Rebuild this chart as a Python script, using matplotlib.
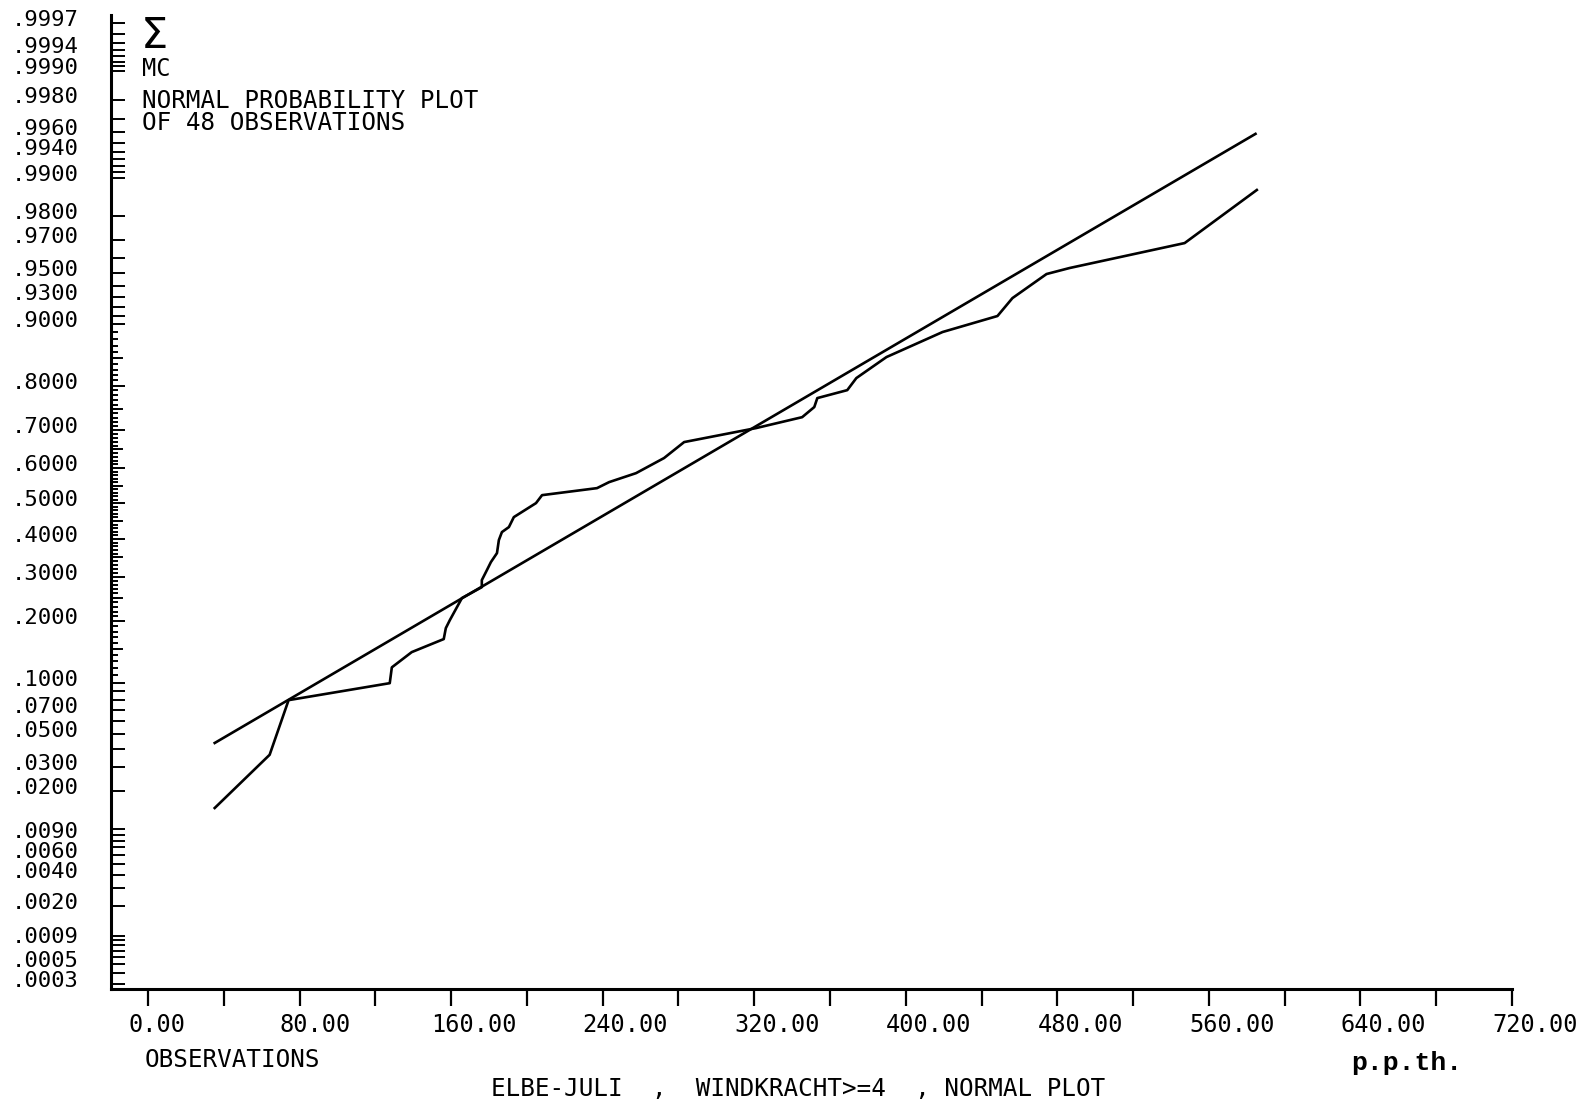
"""
normal probability plot, Elbe July, wind force >= 4
"""
import numpy as np
import matplotlib
matplotlib.use("Agg")
import matplotlib.pyplot as plt
from matplotlib.transforms import ScaledTranslation, blended_transform_factory
from statistics import NormalDist

# observed cumulative curve (p.p.th. , cumulative probability)
obs_x = [35.2, 64.2, 74.2, 127.6, 128.7, 139.2, 156.1, 157.2, 159.3, 165.7,
         176.2, 176.2, 178.9, 181.0, 184.2, 185.2, 186.8, 190.5, 193.1, 204.8,
         208.0, 237.0, 243.4, 257.6, 272.4, 283.0, 321.0, 345.3, 351.7, 353.3,
         369.1, 373.9, 389.8, 419.4, 448.4, 456.3, 474.3, 486.4, 547.2, 585.3]
obs_p = [0.0148, 0.0363, 0.0800, 0.0996, 0.1208, 0.1441, 0.1663, 0.1865, 0.2021, 0.2495,
         0.2749, 0.2918, 0.3170, 0.3376, 0.3613, 0.3967, 0.4188, 0.4329, 0.4610, 0.5008,
         0.5235, 0.5434, 0.5604, 0.5855, 0.6270, 0.6693, 0.7047, 0.7310, 0.7543, 0.7740,
         0.7907, 0.8146, 0.8520, 0.8895, 0.9096, 0.9287, 0.9493, 0.9536, 0.9685, 0.9874]

# fitted normal line, drawn between the smallest and largest observation
fit_x = [34.6, 585.2]
fit_p = [0.0431, 0.9959]

prob_labels = {0.9997: ".9997", 0.9994: ".9994", 0.9990: ".9990", 0.9980: ".9980",
               0.9960: ".9960", 0.9940: ".9940", 0.9900: ".9900", 0.9800: ".9800",
               0.9700: ".9700", 0.9500: ".9500", 0.9300: ".9300", 0.9000: ".9000",
               0.8: ".8000", 0.7: ".7000", 0.6: ".6000", 0.5: ".5000", 0.4: ".4000",
               0.3: ".3000", 0.2: ".2000", 0.1: ".1000", 0.07: ".0700", 0.05: ".0500",
               0.03: ".0300", 0.02: ".0200", 0.009: ".0090", 0.006: ".0060",
               0.004: ".0040", 0.002: ".0020", 0.0009: ".0009", 0.0005: ".0005",
               0.0003: ".0003"}
x_ticks = [0, 80, 160, 240, 320, 400, 480, 560, 640, 720]
x_labels = ["0.00", "80.00", "160.00", "240.00", "320.00", "400.00",
            "480.00", "560.00", "640.00", "720.00"]

_nd = NormalDist()
_ppf = np.vectorize(_nd.inv_cdf, otypes=[float])
_cdf = np.vectorize(_nd.cdf, otypes=[float])


def fwd(p):
    p = np.clip(np.asarray(p, dtype=float), 1e-12, 1 - 1e-12)
    return _ppf(p)


def inv(z):
    return _cdf(np.asarray(z, dtype=float))


MONO = "DejaVu Sans Mono"
W, H = 1593, 1102

fig = plt.figure(figsize=(W / 100, H / 100), dpi=100)
ax = fig.add_axes([110.7 / W, 1 - 989 / H, (1512 - 110.7) / W, (989 - 15) / H])
ax.set_yscale("function", functions=(fwd, inv))

ax.plot(fit_x, fit_p, color="black", lw=1.9, solid_capstyle="butt")
ax.plot(obs_x, obs_p, color="black", lw=1.9, solid_joinstyle="round")

ax.set_xlim(-19.7, 720)
ax.set_ylim(inv(-3.468), inv(3.488))

for s in ("top", "right"):
    ax.spines[s].set_visible(False)
for s in ("left", "bottom"):
    ax.spines[s].set_linewidth(2.2)

# probability ticks
low = [k / 10000 for k in range(3, 10)] + [k / 1000 for k in range(1, 10)] + \
      [k / 100 for k in range(1, 10)]
high = [k / 100 for k in range(91, 100)] + [k / 1000 for k in range(991, 1000)] + \
       [k / 10000 for k in range(9991, 9998)]
tens = [k / 10 for k in range(1, 10)]
major = low + tens + high
dense = [k / 100 for k in range(11, 90) if k % 10]
fives = [k / 100 for k in range(15, 90, 10)]

ax.set_yticks(major)
ax.set_yticklabels([prob_labels.get(round(p, 4), "") for p in major])
ax.set_yticks(dense, minor=True)
ax.yaxis.set_minor_formatter(plt.NullFormatter())
ax.tick_params(axis="y", which="major", direction="in", length=10, width=1.4,
               pad=23, labelsize=16)
ax.tick_params(axis="y", which="minor", direction="in", length=5, width=1.4)
for lab in ax.get_yticklabels():
    lab.set_fontfamily(MONO)
    lab.set_transform(lab.get_transform() +
                      ScaledTranslation(0, 5 / 100, fig.dpi_scale_trans))
btr = blended_transform_factory(ax.transAxes, ax.transData)
for p in fives:
    ax.plot([0, 11 / 1401], [p, p], color="black", lw=1.4, transform=btr,
            clip_on=False)

# x ticks
ax.set_xticks(x_ticks)
ax.set_xticklabels(x_labels)
ax.set_xticks([t + 40 for t in x_ticks[:-1]], minor=True)
ax.tick_params(axis="x", which="both", direction="out", length=12, width=1.6)
ax.tick_params(axis="x", which="major", pad=5, labelsize=17)
for lab in ax.get_xticklabels():
    lab.set_fontfamily(MONO)
    lab.set_horizontalalignment("left")
    lab.set_transform(lab.get_transform() +
                      ScaledTranslation(-20 / 100, 0, fig.dpi_scale_trans))


def ftext(x, y, s, **kw):
    fig.text(x / W, 1 - y / H, s, va="baseline", ha="left", **kw)


ftext(141, 48, "\u03a3", fontsize=31, family="DejaVu Sans")
ftext(142, 76, "MC", fontsize=17, family=MONO)
ftext(142, 108, "NORMAL PROBABILITY PLOT", fontsize=17.5, family=MONO)
ftext(142, 130, "OF 48 OBSERVATIONS", fontsize=17.5, family=MONO)
ftext(145, 1067, "OBSERVATIONS", fontsize=17.5, family=MONO)
ftext(491, 1096, "ELBE-JULI  ,  WINDKRACHT>=4  , NORMAL PLOT", fontsize=17.5,
      family=MONO)
ftext(1351, 1070, "p.p.th.", fontsize=19, family="Liberation Mono",
      fontweight="bold")

fig.savefig("out.png", dpi=100)
